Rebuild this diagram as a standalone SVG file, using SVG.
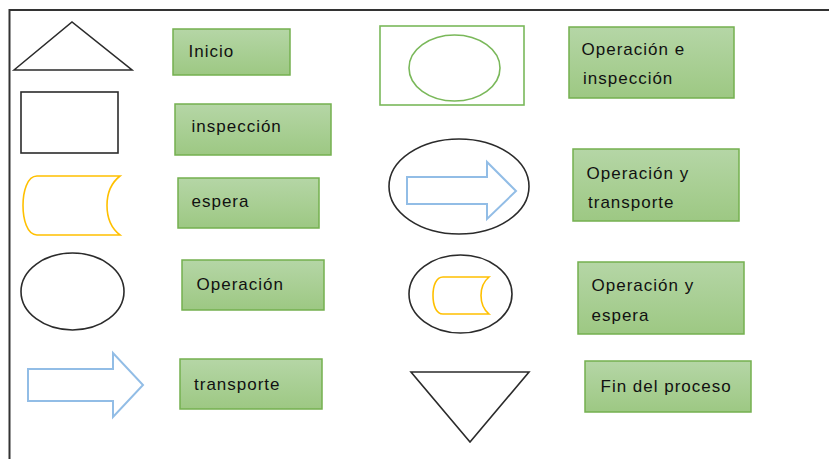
<svg xmlns="http://www.w3.org/2000/svg" width="829" height="459" viewBox="0 0 829 459">
<defs>
<linearGradient id="gb" x1="0" y1="0" x2="0" y2="1">
<stop offset="0" stop-color="#b5d6a6"/>
<stop offset="1" stop-color="#9dc883"/>
</linearGradient>
</defs>
<style>
.box{fill:url(#gb);stroke:#74b04f;stroke-width:1.5}
.lbl{font-family:"Liberation Sans",Arial,sans-serif;font-size:17px;letter-spacing:1px;fill:#111}
.blk{fill:#fff;stroke:#2b2b2b;stroke-width:1.6}
.yel{fill:#fff;stroke:#ffc000;stroke-width:1.6}
.blu{fill:#fff;stroke:#92bde6;stroke-width:2}
.grn{fill:#fff;stroke:#7ab85a;stroke-width:1.6}
</style>
<rect width="829" height="459" fill="#fff"/>
<g id="frame" fill="none" stroke="#333" stroke-width="2">
<path d="M9.5,459 V10 H829"/>
</g>
<g id="sym-inicio"><polygon class="blk" points="14,70 72,22 132,70"/></g>
<g id="lbl-inicio"><rect class="box" x="173" y="29" width="117" height="46"/><text class="lbl" x="188.5" y="57">Inicio</text></g>
<g id="sym-inspeccion"><rect class="blk" x="21" y="92" width="97" height="61" stroke-width="2"/></g>
<g id="lbl-inspeccion"><rect class="box" x="175" y="104" width="156" height="51"/><text class="lbl" x="191.5" y="132">inspección</text></g>
<g id="sym-espera"><path class="yel" d="M120,176 H37 C27,176 23,192 23,205.5 C23,219 27,235 37,235 H120 C111,228 107,217 107,205.5 C107,194 111,183 120,176 Z"/></g>
<g id="lbl-espera"><rect class="box" x="178" y="178" width="141" height="50"/><text class="lbl" x="191.5" y="207">espera</text></g>
<g id="sym-operacion"><ellipse class="blk" cx="72.5" cy="291.5" rx="51.5" ry="38.5"/></g>
<g id="lbl-operacion"><rect class="box" x="182" y="260" width="142" height="50"/><text class="lbl" x="196.5" y="290">Operación</text></g>
<g id="sym-transporte"><polygon class="blu" points="28,369 113,369 113,353 143,385 113,417 113,401 28,401"/></g>
<g id="lbl-transporte"><rect class="box" x="180" y="359" width="142" height="50"/><text class="lbl" x="194" y="390">transporte</text></g>
<g id="sym-op-insp"><rect class="grn" x="380" y="26" width="144" height="79"/><ellipse class="grn" cx="454.5" cy="68" rx="45.5" ry="33"/></g>
<g id="lbl-op-insp"><rect class="box" x="569" y="27" width="165" height="71"/><text class="lbl"><tspan x="581.5" y="55">Operación e</tspan><tspan x="583" y="84">inspección</tspan></text></g>
<g id="sym-op-trans"><ellipse class="blk" cx="459" cy="186.5" rx="70" ry="47.5"/><polygon class="blu" points="407,177 487,177 487,162 516,191 487,219 487,204 407,204"/></g>
<g id="lbl-op-trans"><rect class="box" x="573" y="149" width="166" height="72"/><text class="lbl"><tspan x="586.5" y="179">Operación y</tspan><tspan x="588" y="208">transporte</tspan></text></g>
<g id="sym-op-esp"><ellipse class="blk" cx="460.5" cy="294" rx="51.5" ry="39"/><path class="yel" d="M489,277 H443 C436,277 433,286 433,295.5 C433,305 436,314 443,314 H489 C483,309 481,302 481,295.5 C481,289 483,282 489,277 Z"/></g>
<g id="lbl-op-esp"><rect class="box" x="578" y="262" width="166" height="72"/><text class="lbl"><tspan x="591.5" y="291">Operación y</tspan><tspan x="591.5" y="321">espera</tspan></text></g>
<g id="sym-fin"><polygon class="blk" points="411,372 529,372 470,442"/></g>
<g id="lbl-fin"><rect class="box" x="585" y="361" width="166" height="51"/><text class="lbl" x="600.5" y="392">Fin del proceso</text></g>
</svg>
